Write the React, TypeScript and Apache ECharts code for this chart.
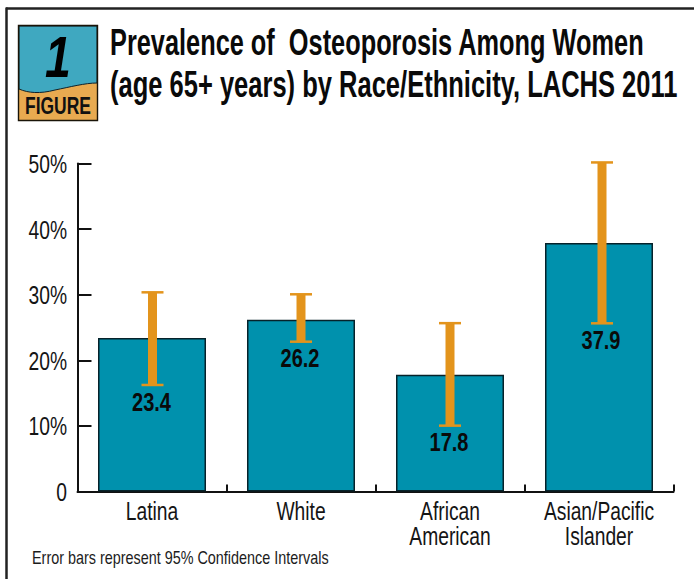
import React, { useEffect, useRef } from "react";
import * as echarts from "echarts";

const FONT = '"Liberation Sans", Arial, sans-serif';
const categories = ["Latina", "White", "African\nAmerican", "Asian/Pacific\nIslander"];
const values = [23.4, 26.2, 17.8, 37.9];
const lower = [16.2, 22.8, 10.0, 25.6];
const upper = [30.4, 30.1, 25.7, 50.2];
const yTickValues = [0, 10, 20, 30, 40, 50];
const yTickLabels = ["0", "10%", "20%", "30%", "40%", "50%"];
const titleLine1 = "Prevalence of  Osteoporosis Among Women";
const titleLine2 = "(age 65+ years) by Race/Ethnicity, LACHS 2011";
const noteText = "Error bars represent 95% Confidence Intervals";

echarts.graphic.registerShape(
  "figureWave",
  echarts.graphic.extendPath("M19 26 H97 V83 C85 83 70 87 55 90 C40 94 28 93 19 89 Z", {})
);

export default function App() {
  const ref = useRef<HTMLDivElement>(null);
  useEffect(() => {
    const chart = echarts.init(ref.current!, undefined, { renderer: "svg" });
    chart.setOption({
      animation: false,
      backgroundColor: "#fff",
      textStyle: { fontFamily: FONT },
      grid: { left: 77.5, top: 163.5, width: 596, height: 328 },
      xAxis: {
        type: "category",
        data: categories,
        axisLine: { onZero: false, lineStyle: { color: "#111", width: 2 } },
        axisTick: { show: true, inside: true, length: 7, lineStyle: { color: "#111", width: 2 } },
        axisLabel: { show: false },
      },
      yAxis: {
        type: "value",
        min: 0,
        max: 50,
        interval: 10,
        axisLine: { show: true, lineStyle: { color: "#111", width: 2 } },
        axisTick: { show: true, inside: true, length: 14, lineStyle: { color: "#111", width: 2 } },
        axisLabel: { show: false },
        splitLine: { show: false },
      },
      series: [
        {
          type: "bar",
          data: values,
          barWidth: 108,
          itemStyle: { color: "#0091ad", borderColor: "#06222a", borderWidth: 1.5 },
          silent: true,
        },
        {
          type: "custom",
          clip: false,
          silent: true,
          data: categories.map((_, i) => [i, lower[i], upper[i], values[i]]),
          encode: { x: 0, y: [1, 2] },
          z: 5,
          renderItem: (_p: any, api: any) => {
            const i = api.value(0);
            const lo = api.coord([i, api.value(1)]);
            const hi = api.coord([i, api.value(2)]);
            const orange = "#e3941c";
            // the last error bar sits slightly right of its bar in the reference
            const cx = lo[0] + (i === 3 ? 3 : i === 0 ? 0.5 : 0);
            return {
              type: "group",
              children: [
                { type: "rect", shape: { x: cx - 4.5, y: hi[1], width: 9, height: lo[1] - hi[1] }, style: { fill: orange } },
                { type: "rect", shape: { x: cx - 11, y: hi[1] - 1, width: 22, height: 2.5 }, style: { fill: orange } },
                { type: "rect", shape: { x: cx - 11, y: lo[1] - 1.5, width: 22, height: 2.5 }, style: { fill: orange } },
                {
                  type: "text",
                  x: cx - 1,
                  y: lo[1] + 17,
                  scaleX: 0.8,
                  style: {
                    text: api.value(3).toFixed(1),
                    fill: "#0a0a0a",
                    font: `bold 25px ${FONT}`,
                    textAlign: "center",
                    textVerticalAlign: "middle",
                  },
                },
              ],
            };
          },
        },
        {
          type: "custom",
          clip: false,
          silent: true,
          data: categories.map((_, i) => [i, 0]),
          encode: { x: 0, y: 1 },
          renderItem: (_p: any, api: any) => {
            const i = api.value(0);
            const p = api.coord([i, 0]);
            return {
              type: "text",
              x: p[0],
              y: p[1] + 8,
              scaleX: 0.77,
              style: {
                text: categories[i],
                fill: "#151515",
                font: `25px ${FONT}`,
                lineHeight: 25,
                textAlign: "center",
                textVerticalAlign: "top",
              },
            };
          },
        },
        {
          type: "custom",
          clip: false,
          silent: true,
          data: yTickValues.map((v, i) => [0, v, i]),
          encode: { x: 0, y: 1 },
          renderItem: (p: any, api: any) => {
            const pt = api.coord([0, api.value(1)]);
            return {
              type: "text",
              x: p.coordSys.x - 10.5,
              y: pt[1] + 1,
              scaleX: 0.77,
              style: {
                text: yTickLabels[api.value(2)],
                fill: "#151515",
                font: `25px ${FONT}`,
                textAlign: "right",
                textVerticalAlign: "middle",
              },
            };
          },
        },
      ],
      graphic: [
        { type: "line", shape: { x1: 6, y1: 8.5, x2: 694, y2: 8.5 }, style: { stroke: "#222", lineWidth: 2.5 } },
        { type: "line", shape: { x1: 6.5, y1: 7.5, x2: 6.5, y2: 579 }, style: { stroke: "#222", lineWidth: 2.5 } },
        { type: "rect", shape: { x: 18.5, y: 25.5, width: 79, height: 95 }, style: { fill: "#e8aa50" } },
        { type: "figureWave", x: 0, y: 0, style: { fill: "#3fa8c0", stroke: "#10222a", lineWidth: 1 } },
        { type: "rect", shape: { x: 18.5, y: 25.5, width: 79, height: 95 }, style: { fill: "none", stroke: "#1a1408", lineWidth: 1.4 } },
        {
          type: "text", x: 58, y: 57, scaleX: 0.8,
          style: { text: "1", fill: "#000", font: `italic bold 58px ${FONT}`, textAlign: "center", textVerticalAlign: "middle" },
        },
        {
          type: "text", x: 58, y: 106.5, scaleX: 0.76,
          style: { text: "FIGURE", fill: "#111", font: `bold 23px ${FONT}`, textAlign: "center", textVerticalAlign: "middle" },
        },
        {
          type: "text", x: 110, y: 42, scaleX: 0.685,
          style: { text: titleLine1, fill: "#0a0a0a", font: `bold 37px ${FONT}`, textAlign: "left", textVerticalAlign: "middle" },
        },
        {
          type: "text", x: 110, y: 84, scaleX: 0.69,
          style: { text: titleLine2, fill: "#0a0a0a", font: `bold 37px ${FONT}`, textAlign: "left", textVerticalAlign: "middle" },
        },
        {
          type: "text", x: 32, y: 557, scaleX: 0.8,
          style: { text: noteText, fill: "#1c1c1c", font: `18px ${FONT}`, textAlign: "left", textVerticalAlign: "middle" },
        },
      ],
    });
    return () => chart.dispose();
  }, []);
  return <div ref={ref} style={{ position: "fixed", left: 0, top: 0, width: 694, height: 579 }} />;
}
